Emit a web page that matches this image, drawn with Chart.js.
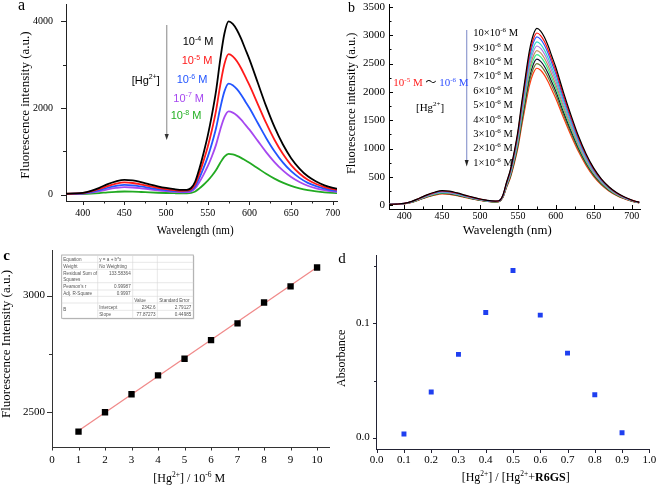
<!DOCTYPE html>
<html>
<head>
<meta charset="utf-8">
<script src="https://cdn.jsdelivr.net/npm/chart.js@4.4.1/dist/chart.umd.min.js"></script>
<style>
  html, body { margin: 0; padding: 0; background: #fff; }
  #fig { position: relative; width: 658px; height: 488px; overflow: hidden; background: #fff; }
  #fig canvas { position: absolute; }
  #overlay { position: absolute; left: 0; top: 0; }
</style>
</head>
<body>
<div id="fig">
  <canvas id="chartA" width="350" height="240" style="left:0;top:0"></canvas>
  <canvas id="chartB" width="318" height="240" style="left:340px;top:0"></canvas>
  <canvas id="chartC" width="340" height="248" style="left:0;top:240px"></canvas>
  <canvas id="chartD" width="328" height="248" style="left:330px;top:240px"></canvas>

  <svg id="overlay" width="658" height="488" viewBox="0 0 658 488" xmlns="http://www.w3.org/2000/svg">
    <!-- panel letters -->
    <g font-family="Liberation Serif" fill="#000">
      <text x="18" y="10" font-size="16">a</text>
      <text x="348" y="11.7" font-size="14">b</text>
      <text x="3.3" y="260" font-size="15" font-weight="bold">c</text>
      <text x="338.3" y="263.3" font-size="15">d</text>
    </g>

    <!-- panel a annotations -->
    <line x1="166.7" y1="25" x2="166.7" y2="135" stroke="#a8a8a8" stroke-width="1.4"/>
    <path d="M164.6,134 L168.8,134 L166.7,140 Z" fill="#333"/>
    <g font-family="Liberation Sans" font-size="11">
      <text x="131.7" y="83.5" fill="#000">[Hg<tspan dy="-4.5" font-size="7">2+</tspan><tspan dy="4.5">]</tspan></text>
      <text x="182.7" y="45" fill="#000">10<tspan dy="-4.5" font-size="7">-4</tspan><tspan dy="4.5"> M</tspan></text>
      <text x="181.7" y="64.3" fill="#ff1a1a">10<tspan dy="-4.5" font-size="7">-5</tspan><tspan dy="4.5"> M</tspan></text>
      <text x="176.7" y="83.3" fill="#2255ff">10<tspan dy="-4.5" font-size="7">-6</tspan><tspan dy="4.5"> M</tspan></text>
      <text x="173.3" y="101.7" fill="#a648f0">10<tspan dy="-4.5" font-size="7">-7</tspan><tspan dy="4.5"> M</tspan></text>
      <text x="170.7" y="119" fill="#22b022">10<tspan dy="-4.5" font-size="7">-8</tspan><tspan dy="4.5"> M</tspan></text>
    </g>

    <!-- panel b annotations -->
    <line x1="466.7" y1="30" x2="466.7" y2="161" stroke="#8f9bd0" stroke-width="1.2"/>
    <path d="M464.7,160 L468.7,160 L466.7,166.5 Z" fill="#222"/>
    <g font-family="Liberation Serif" font-size="10.5" fill="#000">
      <text x="473.3" y="36.2">10×10<tspan dy="-4" font-size="7">-6</tspan><tspan dy="4"> M</tspan></text>
      <text x="473.3" y="50.6">9×10<tspan dy="-4" font-size="7">-6</tspan><tspan dy="4"> M</tspan></text>
      <text x="473.3" y="65">8×10<tspan dy="-4" font-size="7">-6</tspan><tspan dy="4"> M</tspan></text>
      <text x="473.3" y="79.4">7×10<tspan dy="-4" font-size="7">-6</tspan><tspan dy="4"> M</tspan></text>
      <text x="473.3" y="93.8">6×10<tspan dy="-4" font-size="7">-6</tspan><tspan dy="4"> M</tspan></text>
      <text x="473.3" y="108.2">5×10<tspan dy="-4" font-size="7">-6</tspan><tspan dy="4"> M</tspan></text>
      <text x="473.3" y="122.6">4×10<tspan dy="-4" font-size="7">-6</tspan><tspan dy="4"> M</tspan></text>
      <text x="473.3" y="137">3×10<tspan dy="-4" font-size="7">-6</tspan><tspan dy="4"> M</tspan></text>
      <text x="473.3" y="151.4">2×10<tspan dy="-4" font-size="7">-6</tspan><tspan dy="4"> M</tspan></text>
      <text x="473.3" y="165.8">1×10<tspan dy="-4" font-size="7">-6</tspan><tspan dy="4"> M</tspan></text>
    </g>
    <g font-family="Liberation Serif" font-size="11">
      <text x="393.3" y="86"><tspan fill="#ff2020">10</tspan><tspan fill="#ff2020" dy="-4.5" font-size="7">-5</tspan><tspan fill="#ff2020" dy="4.5"> M </tspan><tspan fill="#000" font-family="Noto Sans CJK SC" font-size="11">～</tspan><tspan fill="#3050ff"> 10</tspan><tspan fill="#3050ff" dy="-4.5" font-size="7">-6</tspan><tspan fill="#3050ff" dy="4.5"> M</tspan></text>
      <text x="416" y="110.5" fill="#000">[Hg<tspan dy="-4.5" font-size="7">2+</tspan><tspan dy="4.5">]</tspan></text>
    </g>

    <!-- axis titles -->
    <g font-family="Liberation Serif" fill="#000">
      <text transform="translate(28.5,105) rotate(-90)" text-anchor="middle" font-size="13">Fluorescence intensity (a.u.)</text>
      <text x="156.7" y="233.5" font-size="12.5" textLength="77" lengthAdjust="spacingAndGlyphs">Wavelength (nm)</text>
      <text transform="translate(355,103.3) rotate(-90)" text-anchor="middle" font-size="12.5">Fluorescence intensity (a.u.)</text>
      <text x="462.7" y="233.5" font-size="12.7" textLength="89" lengthAdjust="spacingAndGlyphs">Wavelength (nm)</text>
      <text transform="translate(10,344) rotate(-90)" text-anchor="middle" font-size="13">Fluorescence Intensity (a.u.)</text>
      <text x="153.3" y="482" font-size="12">[Hg<tspan dy="-5" font-size="7.5">2+</tspan><tspan dy="5">] / 10</tspan><tspan dy="-5" font-size="7.5">-6</tspan><tspan dy="5"> M</tspan></text>
      <text transform="translate(345,358.3) rotate(-90)" text-anchor="middle" font-size="12">Absorbance</text>
      <text x="461.7" y="480.5" font-size="12">[Hg<tspan dy="-5" font-size="7.5">2+</tspan><tspan dy="5">] / [Hg</tspan><tspan dy="-5" font-size="7.5">2+</tspan><tspan dy="5">+</tspan><tspan font-weight="bold">R6GS</tspan>]</text>
    </g>

    <!-- fit report table in panel c -->
    <g>
      <rect x="62.7" y="256" width="131.6" height="63.3" fill="#d8d8d8"/>
      <rect x="61.7" y="255" width="131.6" height="63.3" fill="#fff" stroke="#a0a0a0" stroke-width="0.8"/>
      <g stroke="#d6d6d6" stroke-width="0.6">
        <line x1="61.7" y1="262.3" x2="193.3" y2="262.3"/>
        <line x1="61.7" y1="269.3" x2="193.3" y2="269.3"/>
        <line x1="61.7" y1="282.7" x2="193.3" y2="282.7"/>
        <line x1="61.7" y1="290" x2="193.3" y2="290"/>
        <line x1="61.7" y1="296.3" x2="193.3" y2="296.3"/>
        <line x1="61.7" y1="303" x2="193.3" y2="303"/>
        <line x1="97.7" y1="310.3" x2="193.3" y2="310.3"/>
        <line x1="97.7" y1="255" x2="97.7" y2="318.3"/>
        <line x1="132.7" y1="255" x2="132.7" y2="318.3"/>
        <line x1="157.3" y1="255" x2="157.3" y2="318.3"/>
      </g>
      <g font-family="Liberation Sans" font-size="4.6" fill="#555">
        <text x="63.3" y="261">Equation</text>
        <text x="99.3" y="261">y = a + b*x</text>
        <text x="63.3" y="267.7">Weight</text>
        <text x="99.3" y="267.7">No Weighting</text>
        <text x="63.3" y="275">Residual Sum of</text>
        <text x="63.3" y="280.7">Squares</text>
        <text x="130.7" y="275" text-anchor="end">133.58364</text>
        <text x="63.3" y="288.4">Pearson's r</text>
        <text x="130.7" y="288.4" text-anchor="end">0.99987</text>
        <text x="63.3" y="294.7">Adj. R-Square</text>
        <text x="130.7" y="294.7" text-anchor="end">0.9997</text>
        <text x="134.3" y="301.7">Value</text>
        <text x="159.3" y="301.7">Standard Error</text>
        <text x="63.3" y="311.4">B</text>
        <text x="99.3" y="308.7">Intercept</text>
        <text x="155.7" y="308.7" text-anchor="end">2342.6</text>
        <text x="191.3" y="308.7" text-anchor="end">2.79127</text>
        <text x="99.3" y="315.7">Slope</text>
        <text x="155.7" y="315.7" text-anchor="end">77.87273</text>
        <text x="191.3" y="315.7" text-anchor="end">0.44985</text>
      </g>
    </g>
  </svg>
</div>

<script>
// Wavelength grid (nm) shared by the spectra of panels a and b
const wavelengths = [380, 390, 400, 410, 420, 430, 440, 450, 460, 470, 480, 490, 500, 510, 520,
  525, 530, 535, 540, 545, 550, 555, 560, 565, 570, 575, 580, 585, 590, 595, 600,
  610, 620, 630, 640, 650, 660, 670, 680, 690, 700, 705, 710];

// Panel a: emission spectra, [Hg2+] = 1e-4 ... 1e-8 M
const aSpec4 = [18, 25, 40, 85, 155, 240, 305, 340, 325, 285, 235, 190, 152, 122, 105, 108, 150, 300, 600, 960, 1360, 1840, 2400, 3120, 3720, 4000, 3940, 3800, 3600, 3360, 3120, 2580, 2040, 1560, 1160, 840, 600, 420, 300, 212, 152, 132, 115];
const aSpec5 = [16, 22, 34, 70, 127, 196, 250, 278, 266, 233, 193, 156, 125, 100, 86, 88, 122, 243, 486, 778, 1102, 1490, 1944, 2527, 3013, 3240, 3191, 3078, 2916, 2722, 2527, 2090, 1652, 1264, 940, 680, 486, 340, 243, 172, 123, 107, 93];
const aSpec6 = [14, 18, 28, 55, 101, 156, 198, 224, 213, 186, 153, 124, 99, 80, 68, 70, 96, 192, 384, 614, 870, 1178, 1536, 1997, 2381, 2560, 2522, 2432, 2304, 2150, 1997, 1651, 1306, 998, 742, 538, 384, 269, 192, 136, 97, 84, 74];
const aSpec7 = [12, 15, 22, 43, 78, 120, 152, 170, 162, 142, 118, 95, 76, 61, 52, 53, 72, 144, 288, 461, 653, 883, 1152, 1498, 1786, 1920, 1891, 1824, 1728, 1613, 1498, 1238, 979, 749, 557, 403, 288, 202, 144, 102, 73, 63, 55];
const aSpec8 = [10, 10, 12, 20, 33, 50, 62, 69, 66, 58, 49, 41, 35, 30, 27, 28, 38, 71, 141, 226, 320, 432, 564, 733, 874, 940, 926, 893, 846, 790, 733, 606, 479, 367, 273, 197, 141, 99, 71, 50, 36, 31, 27];
const aColors = ['#000000', '#ff1a1a', '#2255ff', '#a648f0', '#22aa22'];

// Panel b: emission spectra, [Hg2+] = 10 ... 1 x 1e-6 M
const bSpec10 = [17, 22, 34, 69, 125, 184, 231, 259, 250, 218, 181, 144, 112, 87, 75, 81, 172, 406, 624, 936, 1310, 1810, 2278, 2714, 2995, 3120, 3073, 2964, 2808, 2621, 2434, 1997, 1591, 1217, 905, 655, 468, 328, 225, 150, 94, 72, 56];
const bSpec9 = [17, 21, 33, 67, 122, 179, 225, 252, 243, 213, 176, 140, 109, 85, 73, 79, 167, 395, 608, 912, 1276, 1763, 2218, 2644, 2917, 3039, 2993, 2887, 2735, 2553, 2370, 1945, 1550, 1185, 881, 638, 456, 319, 219, 146, 91, 70, 55];
const bSpec8 = [16, 21, 33, 65, 119, 175, 220, 247, 238, 208, 172, 137, 107, 83, 71, 77, 163, 386, 594, 891, 1247, 1723, 2168, 2584, 2851, 2970, 2925, 2822, 2673, 2495, 2317, 1901, 1515, 1158, 861, 624, 446, 312, 214, 143, 89, 68, 53];
const bSpec7 = [16, 20, 32, 63, 115, 170, 213, 239, 230, 202, 167, 133, 104, 81, 69, 75, 158, 375, 576, 864, 1210, 1671, 2103, 2506, 2766, 2881, 2838, 2737, 2593, 2420, 2247, 1844, 1469, 1124, 835, 605, 432, 302, 207, 138, 86, 66, 52];
const bSpec6 = [15, 20, 31, 62, 112, 166, 208, 233, 225, 197, 163, 129, 101, 79, 67, 73, 154, 365, 562, 843, 1180, 1629, 2051, 2444, 2697, 2809, 2767, 2669, 2528, 2360, 2191, 1798, 1433, 1096, 815, 590, 421, 295, 202, 135, 84, 65, 51];
const bSpec5 = [15, 19, 30, 60, 109, 161, 202, 227, 218, 191, 158, 126, 98, 76, 65, 71, 150, 355, 546, 819, 1146, 1583, 1992, 2374, 2620, 2729, 2688, 2593, 2456, 2292, 2129, 1747, 1392, 1064, 791, 573, 409, 287, 196, 131, 82, 63, 49];
const bSpec4 = [15, 19, 29, 58, 106, 157, 197, 221, 213, 186, 154, 122, 96, 74, 64, 69, 146, 346, 532, 797, 1116, 1542, 1940, 2312, 2552, 2658, 2618, 2525, 2392, 2233, 2073, 1701, 1356, 1037, 771, 558, 399, 279, 191, 128, 80, 61, 48];
const bSpec3 = [14, 18, 28, 57, 103, 152, 191, 214, 206, 180, 149, 119, 93, 72, 62, 67, 142, 335, 515, 773, 1082, 1495, 1881, 2242, 2474, 2577, 2538, 2448, 2319, 2165, 2010, 1649, 1314, 1005, 747, 541, 387, 271, 186, 124, 77, 59, 46];
const bSpec2 = [14, 18, 28, 55, 100, 148, 185, 208, 200, 175, 145, 115, 90, 70, 60, 65, 138, 325, 500, 750, 1050, 1450, 1825, 2175, 2400, 2500, 2463, 2375, 2250, 2100, 1950, 1600, 1275, 975, 725, 525, 375, 263, 180, 120, 75, 58, 45];
const bSpec1 = [13, 17, 27, 53, 97, 143, 179, 201, 193, 169, 140, 111, 87, 68, 58, 63, 133, 314, 483, 725, 1015, 1402, 1764, 2103, 2320, 2417, 2381, 2296, 2175, 2030, 1885, 1547, 1233, 943, 701, 508, 363, 254, 174, 116, 73, 56, 44];
const bColors = ['#000000', '#ff1010', '#3355ff', '#33d6c8', '#aa77dd', '#c09060', '#33ee88', '#141430', '#6a7a30', '#ff3a10'];

// Panel c: peak intensity vs [Hg2+] and the linear fit
const cConc = [1, 2, 3, 4, 5, 6, 7, 8, 9, 10];
const cPeak = [2417, 2500, 2577, 2658, 2729, 2809, 2881, 2970, 3039, 3120];
const cFitX = [1, 10];
const cFitY = [2420.5, 3121.3];

// Panel d: Job's plot
const dFraction = [0.1, 0.2, 0.3, 0.4, 0.5, 0.6, 0.7, 0.8, 0.9];
const dAbs = [0.0032, 0.0399, 0.0729, 0.1096, 0.1464, 0.1073, 0.0740, 0.0376, 0.0043];

// Tick values
const specXTicks = [400, 450, 500, 550, 600, 650, 700];
const specXMinor = [425, 475, 525, 575, 625, 675];
const aYTicks = [0, 2000, 4000];
const aYMinor = [1000, 3000];
const bYTicks = [0, 500, 1000, 1500, 2000, 2500, 3000, 3500];
const bYMinor = [250, 750, 1250, 1750, 2250, 2750, 3250];
const cXTicks = [0, 1, 2, 3, 4, 5, 6, 7, 8, 9, 10];
const cYTicks = [2500, 3000];
const cYMinor = [2750];
const dXTicks = [0, 0.1, 0.2, 0.3, 0.4, 0.5, 0.6, 0.7, 0.8, 0.9, 1.0];
const dYTicks = [0, 0.1];
const dYMinor = [0.05, 0.15];

const SERIF = "'Liberation Serif', 'Times New Roman', serif";
Chart.defaults.font.family = SERIF;
Chart.defaults.color = '#000';

// draws major + minor tick marks, outward or inward, using the chart's own scales
const tickMarks = {
  id: 'tickMarks',
  afterDraw(chart, args, opts) {
    const ctx = chart.ctx;
    const area = chart.chartArea;
    ctx.save();
    ctx.strokeStyle = opts.color || '#000';
    ctx.lineWidth = 1;
    ['x', 'y'].forEach(id => {
      const s = chart.scales[id];
      const o = opts[id];
      if (!s || !o) return;
      const marks = s.ticks.map(t => [t.value, o.len])
        .concat((o.minor || []).map(v => [v, o.minorLen]));
      marks.forEach(([v, len]) => {
        if (v < s.min || v > s.max) return;
        const p = Math.round(s.getPixelForValue(v)) + 0.5;
        ctx.beginPath();
        if (id === 'x') {
          const y0 = Math.round(area.bottom);
          ctx.moveTo(p, y0);
          ctx.lineTo(p, y0 + (o.inward ? -len : len));
        } else {
          const x0 = Math.round(area.left);
          ctx.moveTo(x0, p);
          ctx.lineTo(x0 + (o.inward ? len : -len), p);
        }
        ctx.stroke();
      });
    });
    ctx.restore();
  }
};

function linAxis(o) {
  return {
    type: 'linear',
    min: o.min,
    max: o.max,
    grid: { display: false, drawTicks: false },
    border: { display: true, color: o.color, width: 1 },
    afterBuildTicks: s => { s.ticks = o.ticks.map(v => ({ value: v })); },
    afterFit: s => {
      if (o.width !== undefined) { s.width = o.width; s.paddingTop = 0; s.paddingBottom = 0; }
      if (o.height !== undefined) { s.height = o.height; s.paddingLeft = 0; s.paddingRight = 0; }
    },
    ticks: {
      autoSkip: false,
      maxRotation: 0,
      padding: o.pad,
      color: '#000',
      font: { family: SERIF, size: o.size },
      callback: o.fmt || (v => String(v))
    }
  };
}

function baseOptions(padding, scales, marks) {
  return {
    responsive: false,
    animation: false,
    devicePixelRatio: 1,
    events: [],
    layout: { padding },
    scales,
    plugins: {
      legend: { display: false },
      tooltip: { enabled: false },
      tickMarks: marks
    }
  };
}

const toPoints = (xs, ys) => xs.map((x, i) => ({ x, y: ys[i] }));

function spectrumSet(values, color, width) {
  return {
    data: toPoints(wavelengths, values),
    borderColor: color,
    borderWidth: width,
    pointRadius: 0,
    fill: false,
    cubicInterpolationMode: 'monotone'
  };
}

// Panel a
const aSeries = [aSpec4, aSpec5, aSpec6, aSpec7, aSpec8];
new Chart(document.getElementById('chartA'), {
  type: 'line',
  data: { datasets: aSeries.map((s, i) => spectrumSet(s, aColors[i], 1.8)) },
  options: baseOptions({ left: 0, top: 4, right: 13, bottom: 9 }, {
    x: linAxis({ min: 380, max: 705, ticks: specXTicks, color: '#222', height: 30, pad: 6, size: 10 }),
    y: linAxis({ min: -150, max: 4400, ticks: aYTicks, color: '#222', width: 66, pad: 13, size: 10 })
  }, {
    color: '#222',
    x: { len: 4, minorLen: 2.5, minor: specXMinor },
    y: { len: 5, minorLen: 3, minor: aYMinor }
  }),
  plugins: [tickMarks]
});

// Panel b
const bSeries = [bSpec10, bSpec9, bSpec8, bSpec7, bSpec6, bSpec5, bSpec4, bSpec3, bSpec2, bSpec1];
new Chart(document.getElementById('chartB'), {
  type: 'line',
  data: { datasets: bSeries.map((s, i) => spectrumSet(s, bColors[i], 1.2)) },
  options: baseOptions({ left: 0, top: 4, right: 18, bottom: 1 }, {
    x: linAxis({ min: 380, max: 711, ticks: specXTicks, color: '#000', height: 30, pad: 1, size: 10 }),
    y: linAxis({ min: -65, max: 3550, ticks: bYTicks, color: '#000', width: 49, pad: 4, size: 11 })
  }, {
    color: '#000',
    x: { len: 4, minorLen: 2.5, minor: specXMinor, inward: true },
    y: { len: 4, minorLen: 2.5, minor: bYMinor, inward: true }
  }),
  plugins: [tickMarks]
});

// Panel c
new Chart(document.getElementById('chartC'), {
  type: 'scatter',
  data: {
    datasets: [
      {
        data: toPoints(cConc, cPeak),
        pointStyle: 'rect',
        pointRadius: 4.5,
        backgroundColor: '#000',
        borderColor: '#000',
        borderWidth: 0
      },
      {
        data: toPoints(cFitX, cFitY),
        showLine: true,
        borderColor: '#f08a8a',
        borderWidth: 1.3,
        pointRadius: 0
      }
    ]
  },
  options: baseOptions({ left: 0, top: 10, right: 11, bottom: 10.7 }, {
    x: linAxis({ min: 0, max: 10.45, ticks: cXTicks, color: '#333', height: 30, pad: 6, size: 11 }),
    y: linAxis({ min: 2350, max: 3195, ticks: cYTicks, color: '#333', width: 52, pad: 7, size: 11 })
  }, {
    color: '#333',
    x: { len: 3.5 },
    y: { len: 5, minorLen: 3, minor: cYMinor }
  }),
  plugins: [tickMarks]
});

// Panel d
new Chart(document.getElementById('chartD'), {
  type: 'scatter',
  data: {
    datasets: [{
      data: toPoints(dFraction, dAbs),
      pointStyle: 'rect',
      pointRadius: 3.5,
      backgroundColor: '#1f3ff0',
      borderColor: '#1f3ff0',
      borderWidth: 0
    }]
  },
  options: baseOptions({ left: 0, top: 15, right: 8.7, bottom: 9 }, {
    x: linAxis({ min: 0, max: 1, ticks: dXTicks, color: '#223', height: 30, pad: 5, size: 11, fmt: v => v.toFixed(1) }),
    y: linAxis({ min: -0.01, max: 0.16, ticks: dYTicks, color: '#223', width: 46.7, pad: 7, size: 11, fmt: v => v.toFixed(1) })
  }, {
    color: '#223',
    x: { len: 4 },
    y: { len: 4, minorLen: 3, minor: dYMinor }
  }),
  plugins: [tickMarks]
});
</script>
</body>
</html>
